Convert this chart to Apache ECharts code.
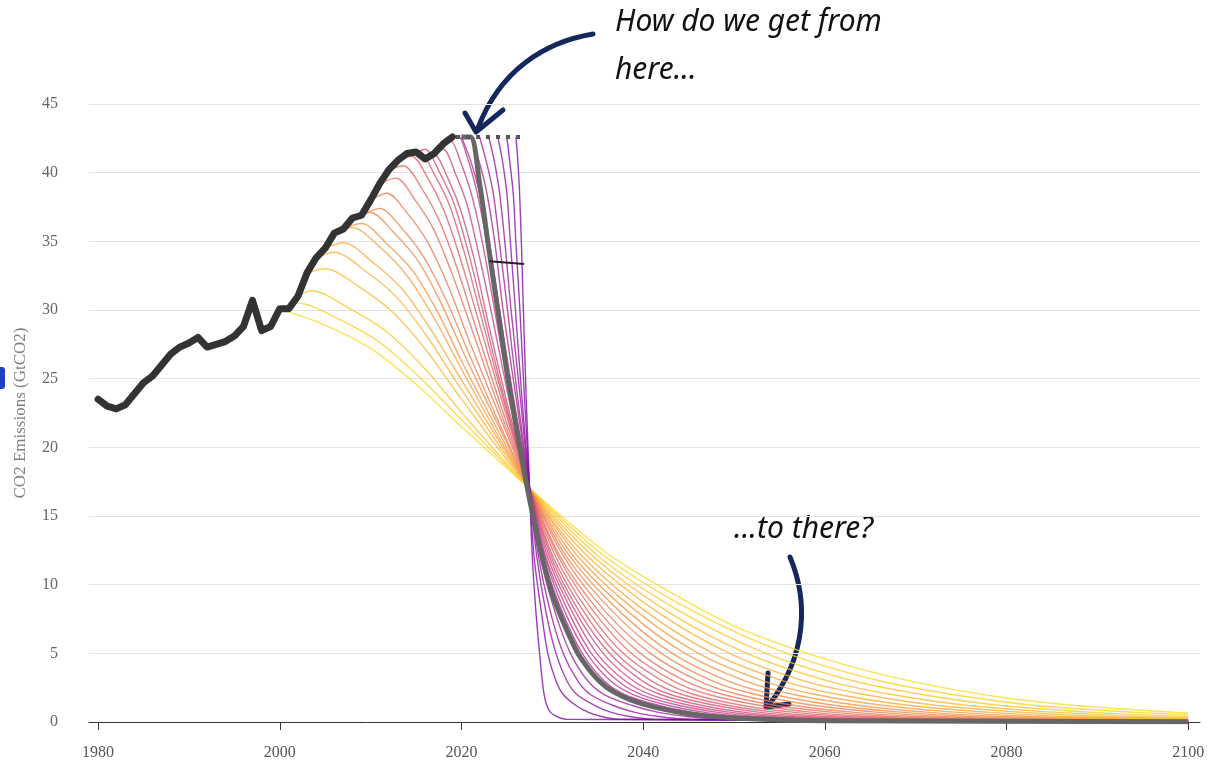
<!DOCTYPE html>
<html>
<head>
<meta charset="utf-8">
<title>CO2 mitigation curves</title>
<script src="https://cdn.jsdelivr.net/npm/echarts@6/dist/echarts.min.js"></script>
<style>
  html, body { margin: 0; padding: 0; background: #fff; }
  #chart { width: 1212px; height: 769px; }
</style>
</head>
<body>
<div id="chart"></div>
<script>
// historical emissions, GtCO2
const histYears = [1980, 1981, 1982, 1983, 1984, 1985, 1986, 1987, 1988, 1989,
  1990, 1991, 1992, 1993, 1994, 1995, 1996, 1997, 1998, 1999,
  2000, 2001, 2002, 2003, 2004, 2005, 2006, 2007, 2008, 2009,
  2010, 2011, 2012, 2013, 2014, 2015, 2016, 2017, 2018, 2019]
const historical = [23.5, 23.0, 22.8, 23.1, 23.9, 24.7, 25.2, 26.0, 26.8, 27.3,
  27.6, 28.0, 27.3, 27.5, 27.7, 28.1, 28.8, 30.7, 28.5, 28.8,
  30.1, 30.1, 31.0, 32.7, 33.8, 34.5, 35.6, 35.9, 36.7, 36.9,
  38.0, 39.2, 40.2, 40.9, 41.4, 41.5, 41.0, 41.4, 42.1, 42.6]

// one mitigation pathway per start year: [year, GtCO2]
const startYears = [2000, 2001, 2002, 2003, 2004, 2005, 2006, 2007, 2008, 2009, 2010, 2011, 2012,
  2013, 2014, 2015, 2016, 2017, 2018, 2019, 2020, 2021, 2022, 2023, 2024, 2025, 2026]
const pathways = [
  [[2000, 30.1], [2005, 28.9], [2010, 27.2], [2015, 24.6], [2020, 21.5], [2027.5, 17.0], [2035, 12.8], [2040, 10.6], [2050, 7.0], [2060, 4.6], [2070, 2.9], [2080, 1.75], [2090, 1.07], [2100, 0.65]],
  [[2001, 30.1], [2002, 30.5], [2006.6, 29.3], [2011.1, 27.6], [2015.7, 24.9], [2020.3, 21.8], [2027.5, 17.0], [2035.9, 12], [2045.7, 8], [2055.8, 5], [2066, 3], [2074.1, 2], [2083.2, 1.2], [2094.2, 0.7], [2100, 0.53]],
  [[2002, 31.0], [2003.5, 31.4], [2007.7, 30.1], [2011.8, 28.4], [2016.0, 25.7], [2020.2, 22.4], [2027.5, 17], [2035.2, 12], [2044.2, 8], [2053.5, 5], [2063.1, 3], [2070.7, 2], [2079.4, 1.2], [2089.7, 0.7], [2100, 0.39]],
  [[2003, 32.7], [2005, 33.0], [2008.7, 31.7], [2012.5, 29.8], [2016.2, 27.0], [2019.9, 23.6], [2027.5, 17], [2034.6, 12], [2042.8, 8], [2051.4, 5], [2060.3, 3], [2067.4, 2], [2075.8, 1.2], [2085.6, 0.7], [2094.7, 0.4], [2100, 0.32]],
  [[2004, 33.8], [2006, 34.2], [2009.5, 32.8], [2012.9, 30.9], [2016.4, 27.9], [2019.8, 24.4], [2027.5, 17], [2034.0, 12], [2041.6, 8], [2049.5, 5], [2057.7, 3], [2064.4, 2], [2072.4, 1.2], [2081.8, 0.7], [2090.4, 0.4], [2100, 0.23]],
  [[2005, 34.5], [2007, 34.9], [2010.2, 33.5], [2013.5, 31.5], [2016.7, 28.5], [2020.0, 24.9], [2027.5, 17], [2033.4, 12], [2040.4, 8], [2047.7, 5], [2055.4, 3], [2061.5, 2], [2069.4, 1.2], [2078.1, 0.7], [2086.3, 0.4], [2097.6, 0.2], [2100, 0.18]],
  [[2006, 35.6], [2008, 36.0], [2011.0, 34.6], [2014.0, 32.5], [2017.0, 29.4], [2020.0, 25.7], [2024.5, 20.3], [2027.5, 17], [2032.9, 12], [2039.4, 8], [2046.1, 5], [2053.2, 3], [2059.0, 2], [2066.5, 1.2], [2074.7, 0.7], [2082.6, 0.4], [2093.3, 0.2], [2100, 0.14]],
  [[2007, 35.9], [2009, 36.3], [2011.8, 34.8], [2014.7, 32.8], [2017.5, 29.7], [2020.3, 25.9], [2024.6, 20.5], [2027.5, 17], [2032.4, 12], [2038.4, 8], [2044.6, 5], [2051.2, 3], [2056.6, 2], [2063.8, 1.2], [2071.5, 0.7], [2079.2, 0.4], [2089.2, 0.2], [2100, 0.11]],
  [[2008, 36.7], [2010, 37.1], [2012.6, 35.6], [2015.3, 33.5], [2017.9, 30.3], [2020.5, 26.5], [2024.5, 21.0], [2027.5, 17], [2032.0, 12], [2037.5, 8], [2043.2, 5], [2049.3, 3], [2054.4, 2], [2061.2, 1.2], [2068.7, 0.7], [2075.8, 0.4], [2085.4, 0.2], [2100, 0.08]],
  [[2009, 36.9], [2011, 37.4], [2013.5, 35.9], [2015.9, 33.8], [2018.4, 30.6], [2020.9, 26.7], [2024.6, 21.1], [2027.5, 17], [2031.6, 12], [2036.7, 8], [2042.0, 5], [2047.6, 3], [2052.4, 2], [2058.9, 1.2], [2066.0, 0.7], [2072.8, 0.4], [2081.9, 0.2], [2100, 0.06]],
  [[2010, 38.0], [2011.8, 38.5], [2014.1, 37.0], [2016.4, 34.8], [2018.7, 31.5], [2021.0, 27.5], [2024.5, 21.8], [2027.5, 17], [2031.3, 12], [2035.9, 8], [2040.8, 5], [2046.1, 3], [2050.5, 2], [2056.7, 1.2], [2063.3, 0.7], [2069.9, 0.4], [2078.6, 0.2], [2100, 0.05]],
  [[2011, 39.2], [2012.8, 39.6], [2014.9, 38.0], [2017.0, 35.8], [2019.1, 32.4], [2021.3, 28.3], [2024.4, 22.4], [2027.5, 17], [2030.9, 12], [2035.2, 8], [2039.7, 5], [2044.6, 3], [2048.8, 2], [2054.7, 1.2], [2061.0, 0.7], [2067.1, 0.4], [2075.4, 0.2], [2100, 0.04]],
  [[2012, 40.2], [2013.6, 40.5], [2015.6, 38.9], [2017.5, 36.6], [2019.5, 33.1], [2021.5, 28.9], [2024.4, 22.9], [2027.5, 17], [2030.7, 12], [2034.6, 8], [2038.7, 5], [2043.3, 3], [2047.2, 2], [2052.9, 1.2], [2058.7, 0.7], [2064.6, 0.4], [2072.6, 0.2], [2100, 0.03]],
  [[2013, 40.9], [2014.5, 41.2], [2016.3, 39.6], [2018.1, 37.2], [2019.9, 33.7], [2021.8, 29.4], [2024.5, 23.3], [2027.5, 17], [2030.4, 12], [2034.0, 8], [2037.8, 5], [2042.1, 3], [2045.6, 2], [2051.0, 1.2], [2056.7, 0.7], [2062.4, 0.4], [2069.8, 0.2], [2100, 0.02]],
  [[2014, 41.4], [2015.3, 41.6], [2017.0, 39.9], [2018.7, 37.6], [2020.4, 34.0], [2022.1, 29.7], [2024.6, 23.5], [2027.5, 17], [2030.1, 12], [2033.5, 8], [2037.0, 5], [2040.9, 3], [2044.3, 2], [2049.4, 1.2], [2054.7, 0.7], [2060.1, 0.4], [2067.2, 0.2], [2100, 0.02]],
  [[2015, 41.5], [2016, 41.7], [2017.6, 40.0], [2019.2, 37.7], [2020.8, 34.1], [2022.4, 29.8], [2024.7, 23.6], [2027.5, 17], [2029.9, 12], [2033.0, 8], [2036.3, 5], [2039.9, 3], [2043.0, 2], [2048.0, 1.2], [2052.9, 0.7], [2058.0, 0.4], [2064.7, 0.2], [2100, 0.02]],
  [[2016, 41.0], [2017, 41.3], [2018.5, 39.6], [2019.9, 37.3], [2021.4, 33.7], [2022.8, 29.5], [2025.0, 23.3], [2027.5, 17], [2029.7, 12], [2032.6, 8], [2035.6, 5], [2038.9, 3], [2041.9, 2], [2046.5, 1.2], [2051.2, 0.7], [2056.0, 0.4], [2062.4, 0.2], [2100, 0.02]],
  [[2017, 41.4], [2018, 41.7], [2019.3, 40.0], [2020.6, 37.7], [2021.9, 34.1], [2023.3, 29.8], [2025.2, 23.6], [2027.5, 17], [2029.5, 12], [2032.2, 8], [2034.9, 5], [2038.0, 3], [2040.8, 2], [2045.2, 1.2], [2049.7, 0.7], [2054.2, 0.4], [2060.4, 0.2], [2100, 0.02]],
  [[2018, 42.1], [2018.8, 42.3], [2020.0, 40.6], [2021.2, 38.2], [2022.4, 34.6], [2023.6, 30.2], [2025.3, 23.9], [2027.5, 17], [2029.3, 12], [2031.8, 8], [2034.3, 5], [2037.2, 3], [2039.8, 2], [2044.0, 1.2], [2048.2, 0.7], [2052.5, 0.4], [2058.4, 0.2], [2100, 0.02]],
  [[2019, 42.6], [2019.6, 42.7], [2020.7, 41.0], [2021.7, 38.6], [2022.8, 34.9], [2023.9, 30.5], [2025.5, 24.1], [2027.5, 17], [2029.2, 12], [2031.4, 8], [2033.8, 5], [2036.4, 3], [2038.9, 2], [2042.8, 1.2], [2046.8, 0.7], [2050.9, 0.4], [2056.4, 0.2], [2100, 0.02]],
  [[2020, 42.6], [2021.0, 40.9], [2022.0, 38.5], [2023.1, 34.8], [2024.1, 30.4], [2025.6, 24.1], [2027.5, 17], [2029.0, 12], [2031.1, 8], [2033.3, 5], [2035.7, 3], [2038.0, 2], [2041.8, 1.2], [2045.5, 0.7], [2049.4, 0.4], [2054.7, 0.2], [2100, 0.02]],
  [[2021, 42.6], [2021.9, 40.9], [2022.8, 38.5], [2023.7, 34.8], [2024.5, 30.4], [2025.9, 24.1], [2027.5, 17], [2028.9, 12], [2030.8, 8], [2032.8, 5], [2035.1, 3], [2037.2, 2], [2040.8, 1.2], [2044.3, 0.7], [2048, 0.4], [2053, 0.2], [2100, 0.01]],
  [[2022, 42.6], [2022.7, 40.9], [2023.5, 38.5], [2024.2, 34.8], [2025.0, 30.4], [2026.1, 24.1], [2027.5, 17], [2028.7, 12], [2030.3, 8], [2032.0, 5], [2033.9, 3], [2035.7, 2], [2038.8, 1.2], [2041.7, 0.7], [2044.8, 0.4], [2049.1, 0.2], [2100, 0.01]],
  [[2023, 42.6], [2023.6, 40.9], [2024.2, 38.5], [2024.8, 34.8], [2025.4, 30.4], [2026.4, 24.1], [2027.5, 17], [2028.5, 12], [2029.8, 8], [2031.2, 5], [2032.8, 3], [2034.2, 2], [2036.7, 1.2], [2039.1, 0.7], [2041.7, 0.4], [2045.1, 0.2], [2100, 0.01]],
  [[2024, 42.6], [2024.5, 40.9], [2025.0, 38.5], [2025.4, 34.8], [2025.9, 30.4], [2026.6, 24.1], [2027.5, 17], [2028.3, 12], [2029.3, 8], [2030.4, 5], [2031.6, 3], [2032.7, 2], [2034.7, 1.2], [2036.5, 0.7], [2038.5, 0.4], [2041.2, 0.2], [2100, 0.01]],
  [[2025, 42.6], [2025.3, 40.9], [2025.7, 38.5], [2026.0, 34.8], [2026.4, 30.4], [2026.9, 24.1], [2027.5, 17], [2028.0, 12], [2028.8, 8], [2029.5, 5], [2030.4, 3], [2031.2, 2], [2032.6, 1.2], [2034.0, 0.7], [2035.4, 0.4], [2037.3, 0.2], [2100, 0.01]],
  [[2026, 42.6], [2026.2, 40.9], [2026.4, 38.5], [2026.6, 34.8], [2026.8, 30.4], [2027.1, 24.1], [2027.5, 17], [2027.8, 12], [2028.2, 8], [2028.6, 5], [2028.9, 3], [2029.1, 2], [2029.4, 1.2], [2029.8, 0.7], [2030.5, 0.4], [2031.5, 0.2], [2100, 0.01]]
]

// highlighted pathway (thick grey)
const greyPath = [[2020, 42.6], [2021, 42.6], [2022, 39.2], [2023, 34.5], [2024, 30.0], [2025, 25.5], [2026, 21.6],
  [2027, 17.9], [2028, 14.6], [2029, 11.7], [2030, 9.3], [2031, 7.6], [2032, 6.1], [2033, 4.8], [2035, 3.1],
  [2037, 2.1], [2040, 1.3], [2045, 0.6], [2050, 0.3], [2060, 0.1], [2100, 0.02]]
// emissions held flat after the last observed year
const plateau = [[2019.4, 42.6], [2026.6, 42.6]]
const marker = [[2023.1, 33.55], [2026.9, 33.35]]

const xTicks = [1980, 2000, 2020, 2040, 2060, 2080, 2100]

const plasma = ['#0d0887', '#41049d', '#6a00a8', '#8f0da4', '#b12a90', '#cc4778',
  '#e16462', '#f2844b', '#fca636', '#fcce25', '#f0f921']

const hexToRgb = (h) => [1, 3, 5].map((i) => parseInt(h.slice(i, i + 2), 16))

const plasmaAt = (t) => {
  const n = plasma.length - 1
  const p = Math.max(0, Math.min(1, t)) * n
  const i = Math.min(Math.floor(p), n - 1)
  const f = p - i
  const a = hexToRgb(plasma[i])
  const b = hexToRgb(plasma[i + 1])
  const c = a.map((v, k) => Math.round(v + (b[k] - v) * f))
  return `rgb(${c[0]},${c[1]},${c[2]})`
}

const serif = '"Liberation Serif", "DejaVu Serif", serif'
const hand = '"Noto Sans", "DejaVu Sans", sans-serif'

const chart = echarts.init(document.getElementById('chart'), null, {renderer: 'canvas'})

const series = startYears.map((s, i) => ({
  name: String(s),
  type: 'line',
  data: pathways[i],
  smooth: 0.3,
  showSymbol: false,
  symbol: 'none',
  silent: true,
  z: 2,
  lineStyle: {
    width: 1.4,
    color: plasmaAt(0.93 - (i / (startYears.length - 1)) * 0.68),
    opacity: 0.78,
  },
}))

series.push({
  name: 'grey',
  type: 'line',
  data: greyPath,
  smooth: 0.3,
  showSymbol: false,
  symbol: 'none',
  silent: true,
  z: 3,
  lineStyle: {width: 5, color: '#666666'},
})

series.push({
  name: 'historical',
  type: 'line',
  data: histYears.map((y, i) => [y, historical[i]]),
  showSymbol: false,
  symbol: 'none',
  silent: true,
  z: 4,
  lineStyle: {width: 7, color: '#333333', cap: 'round', join: 'round'},
})

series.push({
  name: 'plateau',
  type: 'line',
  data: plateau,
  showSymbol: false,
  symbol: 'none',
  silent: true,
  z: 5,
  lineStyle: {width: 4, color: '#555555', type: [4, 6]},
})

series.push({
  name: 'marker',
  type: 'line',
  data: marker,
  showSymbol: false,
  symbol: 'none',
  silent: true,
  z: 5,
  lineStyle: {width: 2, color: '#222222'},
})

const arrowStyle = {stroke: '#14285c', lineWidth: 5, fill: null, lineCap: 'round', lineJoin: 'round'}

const option = {
  animation: false,
  backgroundColor: '#ffffff',
  grid: {left: 89, right: 12, top: 104, bottom: 47, containLabel: false},
  xAxis: {
    type: 'value',
    min: 1979,
    max: 2101.3,
    axisLine: {show: true, onZero: false, lineStyle: {color: '#333', width: 1}},
    axisTick: {show: true, length: 8, customValues: xTicks, lineStyle: {color: '#333'}},
    axisLabel: {customValues: xTicks, formatter: (v) => String(v), color: '#555', fontFamily: serif, fontSize: 16, margin: 23},
    splitLine: {show: false},
  },
  yAxis: {
    type: 'value',
    min: 0,
    max: 45,
    interval: 5,
    name: 'CO2 Emissions (GtCO2)',
    nameLocation: 'middle',
    nameGap: 60,
    nameTextStyle: {color: '#808080', fontFamily: serif, fontSize: 17},
    axisLine: {show: false},
    axisTick: {show: false},
    axisLabel: {color: '#666', fontFamily: serif, fontSize: 16, margin: 31},
    splitLine: {lineStyle: {color: '#e3e3e3', width: 1}},
  },
  series,
  graphic: [
    {type: 'rect', shape: {x: -4, y: 367, width: 9, height: 22, r: 3}, style: {fill: '#1f3fc4'}, silent: true},
    {type: 'text', x: 615, y: 7, style: {text: 'How do we get from', font: `italic 30px ${hand}`, fill: '#111'}, silent: true},
    {type: 'text', x: 615, y: 55, style: {text: 'here...', font: `italic 30px ${hand}`, fill: '#111'}, silent: true},
    {type: 'text', x: 734, y: 514, style: {text: '...to there?', font: `italic 30px ${hand}`, fill: '#111'}, silent: true},
    {type: 'bezierCurve', shape: {x1: 593, y1: 34, cpx1: 545, cpy1: 42, cpx2: 500, cpy2: 70, x2: 478, y2: 128}, style: arrowStyle, silent: true},
    {type: 'polyline', shape: {points: [[465, 113], [476, 132], [503, 110]]}, style: arrowStyle, silent: true},
    {type: 'bezierCurve', shape: {x1: 790, y1: 557, cpx1: 808, cpy1: 600, cpx2: 808, cpy2: 655, x2: 768, y2: 706}, style: arrowStyle, silent: true},
    {type: 'polyline', shape: {points: [[768, 673], [766, 707], [789, 704]]}, style: arrowStyle, silent: true},
  ],
}

chart.setOption(option)
</script>
</body>
</html>
